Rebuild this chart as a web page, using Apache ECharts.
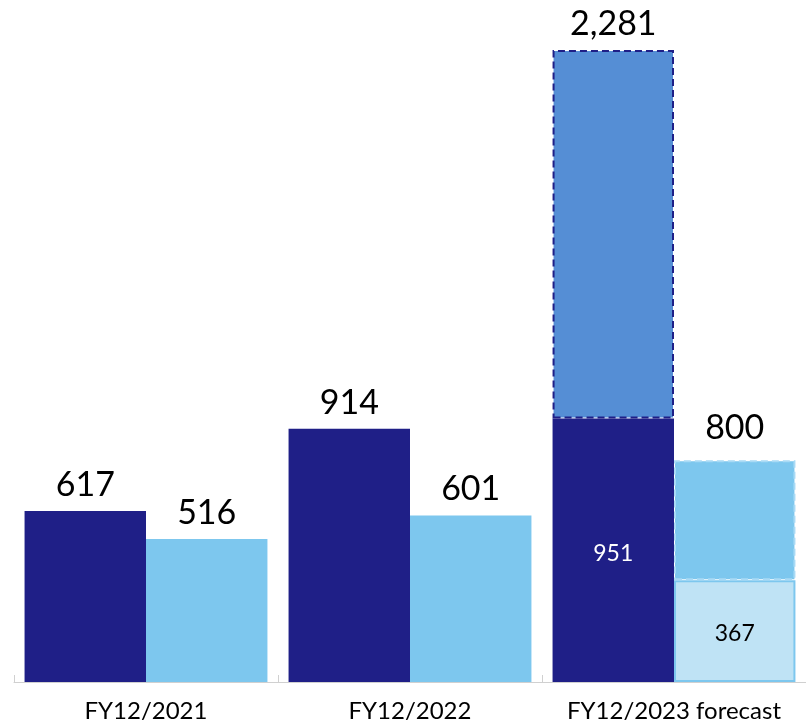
<!DOCTYPE html>
<html>
<head>
<meta charset="utf-8">
<script src="https://cdn.jsdelivr.net/npm/echarts@6/dist/echarts.min.js"></script>
<style>
html,body{margin:0;padding:0;background:#fff;}
#c{width:806px;height:724px;}
</style>
</head>
<body>
<div id="c"></div>
<script>
const categories = ['FY12/2021', 'FY12/2022', 'FY12/2023 forecast'];
const darkBase = [617, 914, 951];
const darkTotal = [617, 914, 2281];
const lightBase = [516, 601, 367];
const lightTotal = [516, 601, 800];

const NAVY = '#1F1F87';
const MID = '#558ED5';
const LIGHT = '#7DC7EE';
const PALE = '#BFE3F5';
const FONT = 'Lato, "Open Sans", sans-serif';
const BIG = 34;
const SMALL = 23;
const GAP = 9;

const fmt = v => v.toLocaleString('en-US');

const chart = echarts.init(document.getElementById('c'));

const darkData = darkBase.map((v, i) => {
  const isForecast = darkTotal[i] !== v;
  return {
    value: v,
    label: isForecast
      ? { show: true, position: 'inside', offset: [0, 3], color: '#fff', fontSize: SMALL, formatter: () => fmt(v) }
      : { show: true, position: 'top', distance: GAP, color: '#000', fontSize: BIG, formatter: () => fmt(v) }
  };
});
const darkUpper = darkTotal.map((t, i) => t !== darkBase[i] ? {
  value: t - darkBase[i],
  label: { show: true, position: 'top', distance: GAP, color: '#000', fontSize: BIG, formatter: () => fmt(t) }
} : '-');

const lightData = lightBase.map((v, i) => {
  const isForecast = lightTotal[i] !== v;
  return {
    value: v,
    itemStyle: isForecast ? { color: PALE, borderColor: LIGHT, borderWidth: 2 } : { color: LIGHT },
    label: isForecast
      ? { show: true, position: 'inside', offset: [0, 2], color: '#000', fontSize: SMALL, formatter: () => fmt(v) }
      : { show: true, position: 'top', distance: GAP, color: '#000', fontSize: BIG, formatter: () => fmt(v) }
  };
});
const lightUpper = lightTotal.map((t, i) => t !== lightBase[i] ? {
  value: t - lightBase[i],
  label: { show: true, position: 'top', distance: GAP + 6, color: '#000', fontSize: BIG, formatter: () => fmt(t) }
} : '-');

chart.setOption({
  animation: false,
  textStyle: { fontFamily: FONT },
  grid: { left: 14, right: -7, top: 17, bottom: 42 },
  xAxis: {
    type: 'category',
    data: categories,
    axisLine: { lineStyle: { color: '#d0d0d0', width: 1 } },
    axisTick: { show: true, inside: true, length: 7, lineStyle: { color: '#d0d0d0' } },
    axisLabel: { color: '#000', fontSize: 24, fontFamily: FONT, margin: 17, interval: 0, hideOverlap: false }
  },
  yAxis: { type: 'value', min: 0, max: 2400, show: false, splitLine: { show: false } },
  series: [
    { type: 'bar', stack: 'a', data: darkData, itemStyle: { color: NAVY }, barGap: '0%', barCategoryGap: '8%' },
    { type: 'bar', stack: 'a', data: darkUpper, itemStyle: { color: MID, borderColor: NAVY, borderWidth: 2, borderType: [7, 4] } },
    { type: 'bar', stack: 'b', data: lightData, itemStyle: { color: LIGHT } },
    { type: 'bar', stack: 'b', data: lightUpper, itemStyle: { color: LIGHT, borderColor: '#A9DAF5', borderWidth: 2, borderType: [7, 4] } }
  ]
});
</script>
</body>
</html>
